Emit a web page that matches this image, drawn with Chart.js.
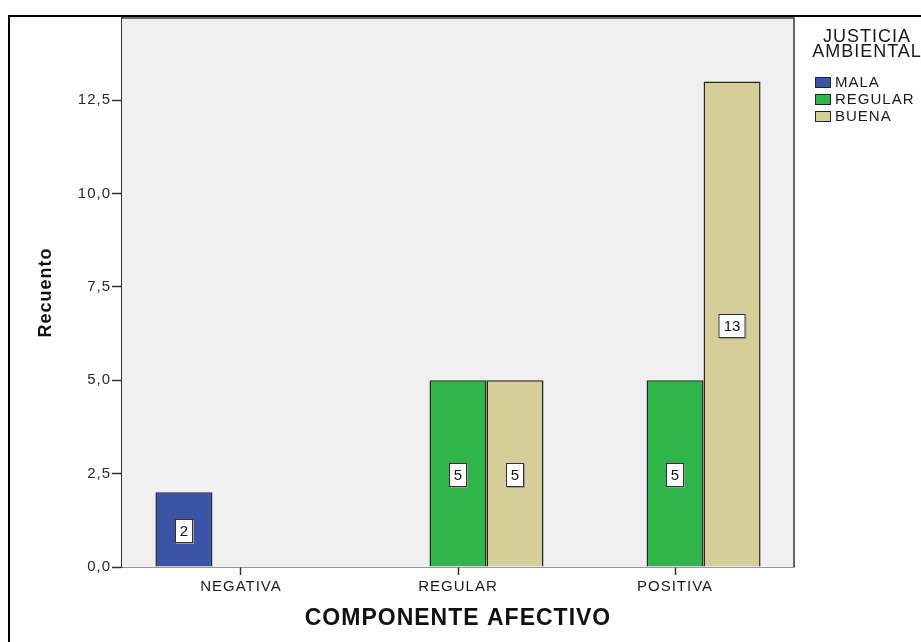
<!DOCTYPE html>
<html>
<head>
<meta charset="utf-8">
<script src="https://cdn.jsdelivr.net/npm/chart.js@4.4.1/dist/chart.umd.min.js"></script>
<style>
  html, body { margin: 0; padding: 0; background: #fff; }
  canvas { display: block; }
</style>
</head>
<body>
<canvas id="chart" width="921" height="642"></canvas>
<script>
// Counts per category, one array per series
const categories = ['NEGATIVA', 'REGULAR', 'POSITIVA'];
const seriesNames = ['MALA', 'REGULAR', 'BUENA'];
const mala = [2, null, null];
const regular = [null, 5, 5];
const buena = [null, 5, 13];
const yTicks = [0, 2.5, 5, 7.5, 10, 12.5];
const legendTitle = ['JUSTICIA', 'AMBIENTAL'];

const seriesColors = ['#3c54a8', '#30b54b', '#d4ce99'];
const FONT = "'Liberation Sans', Arial, sans-serif";

function toPoints(values) {
  return values.map((v, i) => ({ x: i, y: v }));
}

function fmt(v) {
  return v.toFixed(1).replace('.', ',');
}

// Slightly wide text like the SPSS renderer
const spacing = {
  id: 'spacing',
  beforeLayout(chart) { chart.ctx.letterSpacing = '1px'; },
  beforeDraw(chart) { chart.ctx.letterSpacing = '1px'; }
};

// Grey plot background, plot frame and the outer page frame
const frame = {
  id: 'frame',
  beforeDatasetsDraw(chart) {
    const { ctx, chartArea: a } = chart;
    ctx.save();
    ctx.fillStyle = '#f0f0f0';
    ctx.fillRect(a.left, a.top, a.right - a.left, a.bottom - a.top);
    ctx.restore();
  },
  afterDatasetsDraw(chart) {
    const { ctx, chartArea: a } = chart;
    ctx.save();
    ctx.strokeStyle = '#3a3a3a';
    ctx.lineWidth = 1.5;
    ctx.beginPath();
    ctx.moveTo(a.left, a.top);
    ctx.lineTo(a.right, a.top);
    ctx.lineTo(a.right, a.bottom);
    ctx.stroke();
    ctx.fillStyle = '#000';
    ctx.fillRect(8, 15, 913, 2);
    ctx.fillRect(8, 15, 2, 627);
    ctx.restore();
  }
};

// Value boxes in the middle of each bar
const valueBoxes = {
  id: 'valueBoxes',
  afterDatasetsDraw(chart) {
    const ctx = chart.ctx;
    ctx.save();
    ctx.letterSpacing = '0px';
    ctx.font = '15px ' + FONT;
    ctx.textAlign = 'center';
    ctx.textBaseline = 'middle';
    chart.data.datasets.forEach((ds, di) => {
      chart.getDatasetMeta(di).data.forEach((bar, i) => {
        const v = ds.data[i].y;
        if (v === null) return;
        const text = String(v);
        const w = Math.round(ctx.measureText(text).width) + 10;
        const h = 24;
        const cx = Math.round(bar.x);
        const cy = Math.round((bar.y + bar.base) / 2) + 2;
        ctx.fillStyle = '#9a9a9a';
        ctx.fillRect(cx - w / 2 + 1, cy - h / 2 + 1, w, h);
        ctx.fillStyle = '#fff';
        ctx.fillRect(cx - w / 2, cy - h / 2, w, h);
        ctx.strokeStyle = '#333';
        ctx.lineWidth = 1;
        ctx.strokeRect(cx - w / 2 + 0.5, cy - h / 2 + 0.5, w - 1, h - 1);
        ctx.fillStyle = '#111';
        ctx.fillText(text, cx, cy + 1);
      });
    });
    ctx.restore();
  }
};

// Legend at the top right
const sideLegend = {
  id: 'sideLegend',
  afterDraw(chart) {
    const ctx = chart.ctx;
    ctx.save();
    ctx.letterSpacing = '1px';
    ctx.fillStyle = '#1a1a1a';
    ctx.textBaseline = 'middle';
    ctx.textAlign = 'center';
    ctx.font = '18px ' + FONT;
    legendTitle.forEach((t, i) => ctx.fillText(t, 867, 37 + i * 15));
    ctx.textAlign = 'left';
    ctx.font = '15px ' + FONT;
    chart.data.datasets.forEach((ds, i) => {
      const y = 77 + i * 17;
      ctx.fillStyle = ds.backgroundColor;
      ctx.fillRect(815, y, 16, 11);
      ctx.strokeStyle = '#222';
      ctx.lineWidth = 1;
      ctx.strokeRect(815.5, y + 0.5, 15, 10);
      ctx.fillStyle = '#1a1a1a';
      ctx.fillText(ds.label, 835, y + 6);
    });
    ctx.restore();
  }
};

const seriesData = [mala, regular, buena];

new Chart(document.getElementById('chart'), {
  type: 'bar',
  data: {
    datasets: seriesData.map((values, i) => ({
      label: seriesNames[i],
      data: toPoints(values),
      backgroundColor: seriesColors[i],
      borderColor: '#252525',
      borderWidth: 1.5,
      categoryPercentage: 0.788,
      barPercentage: 1
    }))
  },
  options: {
    responsive: false,
    animation: false,
    layout: { padding: { left: 0, top: 18, right: 127, bottom: 0 } },
    plugins: {
      legend: { display: false },
      tooltip: { enabled: false }
    },
    scales: {
      x: {
        type: 'linear',
        offset: false,
        min: -0.548,
        max: 2.548,
        afterBuildTicks: (s) => { s.ticks = categories.map((c, i) => ({ value: i })); },
        afterFit: (s) => { s.height = 75; },
        ticks: {
          callback: (v) => categories[v],
          color: '#1a1a1a',
          font: { family: FONT, size: 15 },
          padding: 3,
          maxRotation: 0,
          autoSkip: false
        },
        grid: { offset: false, drawOnChartArea: false, tickLength: 8, color: '#333', tickWidth: 1.5 },
        border: { color: '#333', width: 1.5 },
        title: {
          display: true,
          text: 'COMPONENTE AFECTIVO',
          color: '#111',
          font: { family: FONT, size: 23, weight: 'bold' },
          padding: { top: 0, bottom: 10 }
        }
      },
      y: {
        min: 0,
        max: 14.7,
        afterBuildTicks: (s) => { s.ticks = yTicks.map((v) => ({ value: v })); },
        afterFit: (s) => { s.width = 122; },
        ticks: {
          callback: (v) => fmt(v),
          color: '#2a2a2a',
          font: { family: FONT, size: 15 },
          padding: 1
        },
        grid: { drawOnChartArea: false, tickLength: 10, color: '#333', tickWidth: 1.5 },
        border: { color: '#333', width: 1.5 },
        title: {
          display: true,
          text: 'Recuento',
          color: '#111',
          font: { family: FONT, size: 18, weight: 'bold' },
          padding: { top: 35, bottom: 0 }
        }
      }
    }
  },
  plugins: [spacing, frame, valueBoxes, sideLegend]
});
</script>
</body>
</html>
